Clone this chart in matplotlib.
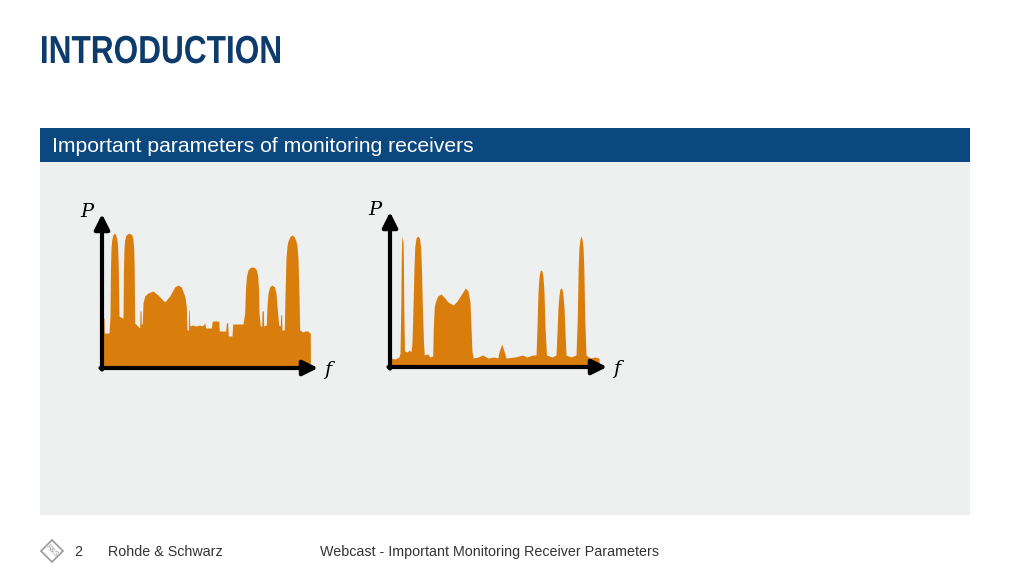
import numpy as np
import matplotlib.pyplot as plt
from matplotlib.patches import Rectangle, Polygon, PathPatch
from matplotlib.textpath import TextPath
from matplotlib.font_manager import FontProperties
from matplotlib.transforms import Affine2D

# Spectre 1 : frequence / puissance (unites arbitraires)
f1 = [0, 1, 2, 2.3, 7, 8, 8.5, 9, 9.7, 10.8, 12.3, 13.8, 15, 15.7, 16.3, 17, 20.3,
      21, 21.5, 22, 22.7, 24, 27, 30, 31, 31.7, 32.2, 32.7, 37.7, 38, 39, 39.3,
      40.3, 41, 42.7, 46, 51, 56, 62.7, 67.7, 72.7, 76, 79.3, 82.7, 84.3, 85, 86.3,
      86.7, 87.3, 87.7, 90.3, 93.7, 97.7, 100.3, 102.7, 103.7, 109.3, 110.3, 116.7,
      117.3, 123.7, 124.3, 125.7, 126.3, 130, 130.7, 141, 142.7, 143.5, 144.5, 146,
      148, 150.3, 152.5, 154.5, 155.7, 156.5, 157, 158.3, 159.7, 160, 161.3, 161.7,
      164.3, 165, 166, 167.5, 170, 172.5, 174, 175, 176.7, 178.3, 178.7, 179.7, 180,
      182.3, 183, 184, 185, 186, 188, 190, 192, 194, 195, 196, 197, 197.7,
      201, 202.7, 206, 207.7, 208.3, 208.4]
p1 = [50, 50, 50, 35, 35, 52, 100, 120, 128, 133, 135, 133, 128, 120, 100, 52, 50,
      50, 100, 120, 128, 133, 135, 133, 128, 120, 100, 45, 40, 57, 57, 43,
      45, 65, 72, 75, 77, 73, 66, 72, 81, 83, 81, 72, 62, 38, 38,
      58, 58, 42, 43, 42, 43, 42, 45, 40, 40, 47, 47,
      37, 37, 45, 45, 32, 32, 44, 44, 55, 80, 92, 98,
      100.5, 101, 100.5, 98, 92, 80, 55, 42, 42, 57, 57, 42,
      43, 62, 75, 81, 83, 81, 75, 62, 43, 42, 53, 53, 38,
      38, 72, 110, 122, 127, 131.5, 133, 131.5, 127, 122, 110, 72, 38,
      36, 37, 37, 35, 35, 0]

# Spectre 2 : meme scene, meilleure resolution
f2 = [0, 1, 5, 9, 10, 10.8, 11.2, 11.6, 12.3, 13, 13.4, 13.8, 14.5, 17, 19.3, 21,
      22, 23, 24, 24.8, 26, 27.7, 29.4, 30.6, 31.4, 32.4, 33.5, 34.3, 37.7, 40,
      42.7, 43.3, 44.3, 45.3, 47.7, 51, 54, 58, 63.3, 67, 71, 75.3, 78, 80, 81, 82,
      83.3, 88, 92.7, 98, 104, 107.7, 109.3, 111.7, 114, 116, 125, 132.7, 137,
      142.7, 146, 147, 148, 149, 150, 151, 152, 153, 154, 155, 156.5, 162,
      166, 167, 168, 169, 170, 171, 172, 173, 174, 175, 176, 181,
      186, 187.3, 188.2, 189, 190, 191, 192, 193, 193.8, 194.7, 196, 200, 205,
      209, 209.5]
p2 = [9, 9, 8, 10, 14, 60, 105, 125, 131, 125, 105, 60, 16, 15, 17, 15,
      25, 60, 100, 120, 129, 131, 129, 120, 100, 60, 25, 12, 13, 10,
      11, 40, 60, 65, 71, 73, 70, 65, 62, 66, 72, 79, 76, 65, 40, 15,
      9, 10, 12, 9, 10, 9, 16, 23, 16, 9, 10, 12, 10,
      12, 12, 40, 75, 90, 96, 97, 96, 90, 75, 40, 12, 10,
      12, 35, 60, 72, 78, 79, 78, 72, 60, 35, 12, 10,
      12, 50, 100, 120, 128, 131, 128, 120, 100, 50, 12, 9, 10,
      9, 0]

titre = "INTRODUCTION"
bandeau = "Important parameters of monitoring receivers"
page = "2"
societe = "Rohde & Schwarz"
pied = "Webcast - Important Monitoring Receiver Parameters"

W, H = 1024, 576
orange = "#d97d0d"
bleu = "#0b4880"

fig = plt.figure(figsize=(W / 100, H / 100), dpi=100)
fig.patch.set_facecolor("white")

# fond de la diapo, en pixels
bg = fig.add_axes([0, 0, 1, 1])
bg.set_xlim(0, W)
bg.set_ylim(H, 0)
bg.axis("off")

# titre en gras etroit : chemin de texte compresse horizontalement
tp = TextPath((0, 0), titre, size=1,
              prop=FontProperties(family="Liberation Sans", weight="bold"))
ext = tp.get_extents()
sx = 238 / ext.width
sy = 28 / 0.716
tr = Affine2D().translate(-ext.x0, 0).scale(sx, -sy).translate(42, 63)
bg.add_patch(PathPatch(tr.transform_path(tp), color="#0d3b6b", lw=0))

bg.add_patch(Rectangle((40, 128), 930, 34, color=bleu, lw=0))
bg.text(52, 146, bandeau, fontsize=15.2, color="white", family="Liberation Sans",
        va="center", ha="left")
bg.add_patch(Rectangle((40, 162), 930, 353, color="#eef0ef", lw=0))

# pied de page
bg.add_patch(Polygon([(52, 540), (63, 551), (52, 562), (41, 551)], closed=True,
                     fill=False, ec="#9a9a9a", lw=1.2))
bg.text(52, 551, "R&S", fontsize=5, color="#9a9a9a", rotation=-45,
        ha="center", va="center", family="Liberation Sans")
bg.text(74, 552, page, fontsize=10.3, color="#333333", family="Liberation Sans", va="center")
bg.text(108, 552, societe, fontsize=10.3, color="#333333", family="Liberation Sans", va="center")
bg.text(320, 552, pied, fontsize=10.3, color="#333333", family="Liberation Sans", va="center")


def spectre(x0, y0, larg, haut, f, p):
    ax = fig.add_axes([x0 / W, 1 - y0 / H, larg / W, haut / H])
    ax.set_xlim(0, larg)
    ax.set_ylim(0, haut)
    ax.axis("off")
    ax.fill_between(f, p, 0, color=orange, lw=0, clip_on=False)
    fleche = dict(arrowstyle="-|>,head_length=0.9,head_width=0.45", color="black",
                  lw=3, shrinkA=0, shrinkB=0)
    ax.annotate("", xy=(1, 0), xytext=(-0.007, 0), xycoords="axes fraction",
                arrowprops=fleche, annotation_clip=False)
    ax.annotate("", xy=(0, 1), xytext=(0, -0.01), xycoords="axes fraction",
                arrowprops=fleche, annotation_clip=False)
    ax.text(-15, haut + 2, "P", fontsize=14, style="italic", family="DejaVu Serif",
            ha="center", va="center", clip_on=False)
    ax.text(larg + 10, -2, "f", fontsize=14, style="italic", family="DejaVu Serif",
            ha="center", va="center", clip_on=False)
    return ax


spectre(102, 368, 216, 154, f1, p1)
spectre(390, 367, 217, 155, f2, p2)

fig.savefig("out.png", dpi=100)
